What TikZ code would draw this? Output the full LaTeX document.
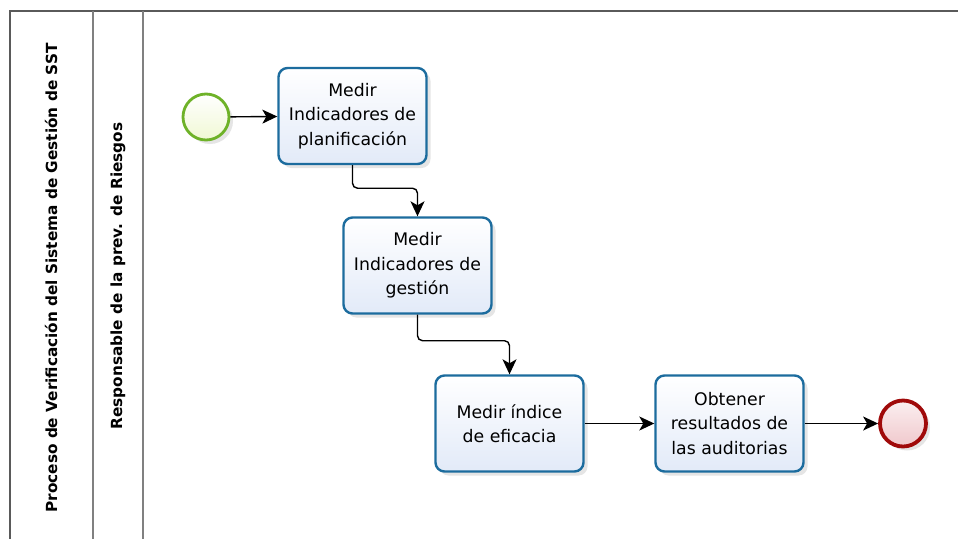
\documentclass[tikz,border=0pt]{standalone}
\usepackage{fontspec}
\setmainfont{DejaVu Sans}
\usetikzlibrary{arrows.meta,shadows,calc}
\definecolor{taskblue}{RGB}{28,108,158}
\definecolor{taskfill}{RGB}{226,234,248}
\definecolor{startgreen}{RGB}{110,178,40}
\definecolor{startfill}{RGB}{240,248,212}
\definecolor{endred}{RGB}{160,10,10}
\definecolor{endfill}{RGB}{240,200,204}
\definecolor{framegray}{RGB}{90,90,90}
\begin{document}
\begin{tikzpicture}[x=1pt,y=-1pt,
  task/.style={rectangle, rounded corners=9pt, draw=taskblue, line width=2.4pt,
    top color=white, bottom color=taskfill, minimum width=148pt, minimum height=96pt,
    align=center, font=\fontsize{17.3}{24.5}\selectfont, inner sep=2pt,
    drop shadow={opacity=0.2, shadow xshift=4pt, shadow yshift=-4pt}},
  startev/.style={circle, draw=startgreen, line width=2.8pt, inner sep=0pt,
    top color=white, bottom color=startfill, minimum size=46pt,
    drop shadow={opacity=0.2, shadow xshift=4pt, shadow yshift=-4pt}},
  endev/.style={circle, draw=endred, line width=3.8pt, inner sep=0pt,
    top color=white!70!endfill, bottom color=endfill, minimum size=46pt,
    drop shadow={opacity=0.2, shadow xshift=4pt, shadow yshift=-4pt}},
  flow/.style={draw=black, line width=1.4pt, rounded corners=5pt,
    -{Stealth[length=15pt,width=14pt,inset=4pt]}},
  lanelabel/.style={rotate=90, font=\fontsize{15.3}{18}\bfseries\selectfont, inner sep=0pt}
]
\useasboundingbox (0,0) rectangle (958,539);
\fill[white] (0,0) rectangle (958,539);
% pool frame
\draw[framegray, line width=1.8pt] (958,11) -- (10,11) -- (10,539);
\draw[gray, line width=1.2pt] (93,11) -- (93,539);
\draw[gray, line width=1.2pt] (143,11) -- (143,539);
\node[lanelabel] (pool) at (51,278) {Proceso de Verificación del Sistema de Gestión de SST};
\node[lanelabel] (lane) at (118,276) {Responsable de la prev. de Riesgos};
% nodes
\node[startev] (s) at (206,117) {};
\node[task] (t1) at (352.5,116) {Medir\\Indicadores de\\planificación};
\node[task] (t2) at (417.5,265.5) {Medir\\Indicadores de\\gestión};
\node[task] (t3) at (509.5,423.5) {Medir índice\\de eficacia};
\node[task] (t4) at (729.5,423.5) {Obtener\\resultados de\\las auditorias};
\node[endev] (e) at (903,423.5) {};
% flows
\draw[flow] (s) -- (t1);
\draw[flow] (t1.south) -- ++(0,23) -| (t2.north);
\draw[flow] (t2.south) -- ++(0,26) -| (t3.north);
\draw[flow] (t3) -- (t4);
\draw[flow] (t4) -- (e);
\end{tikzpicture}
\end{document}
